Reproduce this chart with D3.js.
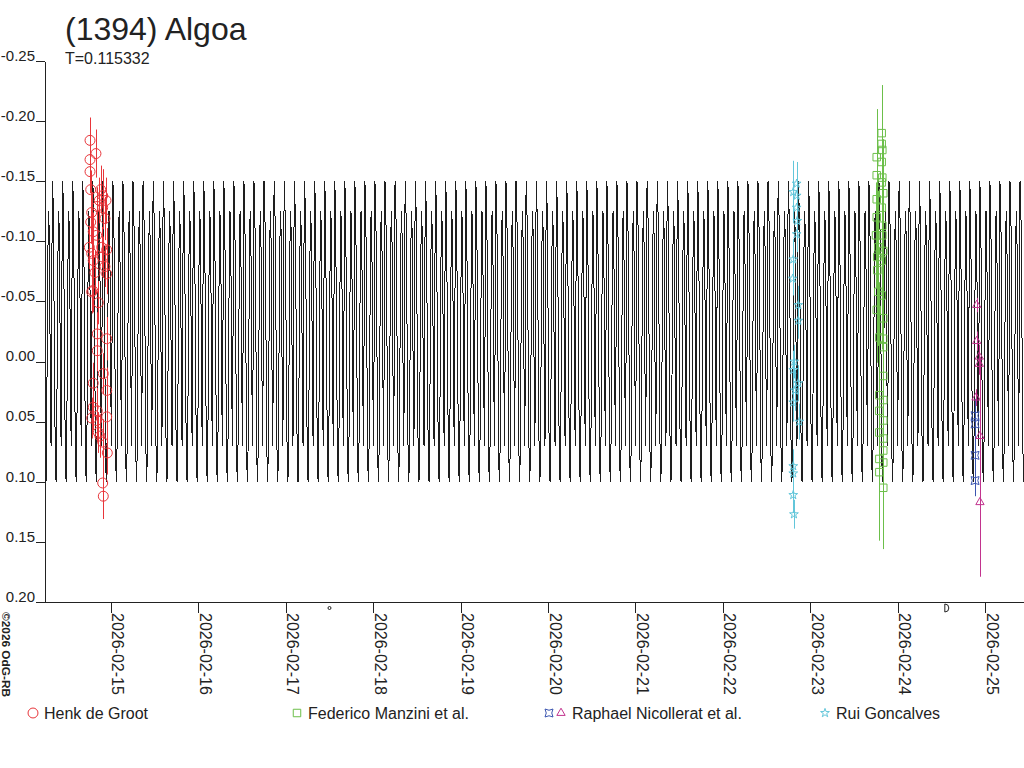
<!DOCTYPE html>
<html>
<head>
<meta charset="utf-8">
<script src="https://cdn.jsdelivr.net/npm/d3@7"></script>
<style>
  body { margin: 0; background: #fff; }
  svg { display: block; font-family: "Liberation Sans", Arial, sans-serif; }
</style>
</head>
<body>
<div class="canvas"></div>
<script>
// all times are day-of-month, February 2026 (UT); magnitudes are relative
const title = '(1394) Algoa';
const period = 0.115332; // days
const xDomainDays = [14.245, 25.446];
const yTicks = [-0.25, -0.20, -0.15, -0.10, -0.05, 0.00, 0.05, 0.10, 0.15, 0.20];

// one cycle of the fitted lightcurve (16 equal phase steps)
const curveEpoch = 14.79;
const curveProfile = [-0.150, -0.140, -0.100, -0.030, 0.040, 0.090, 0.100, 0.060,
                      -0.020, -0.090, -0.125, -0.110, -0.050, 0.030, 0.070, -0.040];

// Henk de Groot
const henkDay = [14.752, 14.760, 14.760, 14.760, 14.768, 14.768, 14.779, 14.779, 14.779, 14.779,
                 14.791, 14.797, 14.797, 14.797, 14.797, 14.817, 14.828, 14.836, 14.836, 14.843,
                 14.843, 14.843, 14.843, 14.855, 14.855, 14.866, 14.874, 14.882, 14.894, 14.905,
                 14.905, 14.905, 14.905, 14.905, 14.912, 14.912, 14.931, 14.931, 14.943, 14.951,
                 14.951, 14.951, 14.951, 14.951, 14.958];
const henkMag = [-0.095, -0.184, -0.168, -0.158, -0.143, -0.116, -0.124, -0.090, -0.058, 0.047,
                 -0.059, -0.108, -0.084, 0.018, 0.038, -0.074, -0.173, -0.105, 0.049, -0.129,
                 -0.023, -0.009, 0.041, -0.049, 0.059, -0.134, 0.062, -0.143, -0.095, -0.138,
                 -0.128, -0.087, 0.067, 0.101, 0.010, 0.112, -0.119, -0.079, -0.134, -0.093,
                 -0.073, -0.019, 0.024, 0.046, 0.076];
const henkErr = [0.018, 0.019, 0.017, 0.018, 0.016, 0.018, 0.017, 0.019, 0.018, 0.017,
                 0.018, 0.016, 0.018, 0.017, 0.019, 0.018, 0.020, 0.017, 0.018, 0.016,
                 0.018, 0.017, 0.019, 0.018, 0.017, 0.019, 0.018, 0.020, 0.017, 0.022,
                 0.018, 0.017, 0.019, 0.018, 0.017, 0.019, 0.018, 0.017, 0.019, 0.018,
                 0.017, 0.018, 0.019, 0.017, 0.018];

// Federico Manzini et al.
const fedDay = [23.761, 23.761, 23.761, 23.761, 23.753, 23.768, 23.768, 23.779, 23.779, 23.761,
                23.791, 23.791, 23.791, 23.791, 23.791, 23.791, 23.818, 23.818, 23.825, 23.818,
                23.825, 23.818, 23.836, 23.818, 23.825, 23.825, 23.836, 23.818, 23.818, 23.836,
                23.836, 23.836, 23.836, 23.836, 23.836, 23.836, 23.836, 23.836, 23.836];
const fedMag = [-0.170, -0.155, -0.135, -0.120, -0.105, -0.087, -0.076, -0.095, -0.058, -0.043,
                -0.020, 0.028, 0.041, 0.059, 0.081, 0.092, -0.190, -0.181, -0.176, -0.166,
                -0.153, -0.149, -0.140, -0.128, -0.113, -0.105, -0.092, -0.084, -0.055, -0.036,
                -0.019, -0.012, 0.012, 0.032, 0.049, 0.064, 0.074, 0.084, 0.105];
const fedErr = [0.040, 0.045, 0.042, 0.048, 0.044, 0.046, 0.043, 0.047, 0.045, 0.044,
                0.046, 0.048, 0.050, 0.047, 0.052, 0.057, 0.040, 0.038, 0.042, 0.044,
                0.041, 0.043, 0.045, 0.042, 0.046, 0.044, 0.043, 0.047, 0.045, 0.046,
                0.044, 0.048, 0.046, 0.045, 0.047, 0.049, 0.048, 0.050, 0.051];

// Raphael Nicollerat et al. (two sessions)
const raphADay = [24.886, 24.886, 24.886, 24.886];
const raphAMag = [0.045, 0.052, 0.078, 0.099];
const raphAErr = [0.014, 0.015, 0.016, 0.013];
const raphBDay = [24.905, 24.905, 24.934, 24.934, 24.897, 24.942, 24.942];
const raphBMag = [-0.047, -0.017, -0.004, 0.002, 0.030, 0.062, 0.117];
const raphBErr = [0.006, 0.008, 0.010, 0.009, 0.007, 0.066, 0.062];

// Rui Goncalves
const ruiDay = [22.845, 22.806, 22.845, 22.845, 22.852, 22.845, 22.806, 22.800, 22.864, 22.864,
                22.818, 22.806, 22.864, 22.826, 22.806, 22.875, 22.806, 22.806, 22.806, 22.814];
const ruiMag = [-0.148, -0.141, -0.138, -0.128, -0.117, -0.106, -0.085, -0.069, -0.047, -0.034,
                0.000, 0.007, 0.018, 0.024, 0.034, 0.050, 0.087, 0.093, 0.111, 0.127];
const ruiErr = [0.018, 0.026, 0.015, 0.014, 0.016, 0.015, 0.017, 0.014, 0.016, 0.015,
                0.014, 0.016, 0.015, 0.017, 0.016, 0.015, 0.014, 0.016, 0.015, 0.012];

const legendNames = ['Henk de Groot', 'Federico Manzini et al.', 'Raphael Nicollerat et al.', 'Rui Goncalves'];
const moonDays = [17.50, 24.54];
const moonKinds = ['new', 'first'];

// ---- helpers ----
const toDate = d => new Date(Date.UTC(2026, 1, 0) + d * 864e5);
const zip = (days, mags, errs) => days.map((d, i) => ({ day: d, mag: mags[i], err: errs[i] }));

const svg = d3.select('.canvas')
    .append('svg')
    .attr('width', 1024)
    .attr('height', 768);

const x = d3.scaleUtc()
    .domain(xDomainDays.map(toDate))
    .range([45, 1024]);

const y = d3.scaleLinear()
    .domain([-0.25, 0.20])
    .range([61, 602]);

// ---- title ----
svg.append('text')
    .attr('x', 65).attr('y', 40)
    .attr('font-size', 32)
    .attr('fill', '#222')
    .text(title);

svg.append('text')
    .attr('x', 65).attr('y', 64)
    .attr('font-size', 16)
    .attr('fill', '#222')
    .text(`T=${period}`);

// ---- model curve, the read cycle repeated every period ----
const curvePts = [];
const kStart = Math.floor((xDomainDays[0] - curveEpoch) / period) - 1;
const kEnd = Math.ceil((xDomainDays[1] - curveEpoch) / period) + 1;
for (let k = kStart; k <= kEnd; k++) {
    curveProfile.forEach((m, i) => {
        const day = curveEpoch + (k + i / curveProfile.length) * period;
        if (day >= xDomainDays[0] && day <= xDomainDays[1]) curvePts.push({ day, mag: m });
    });
}

svg.append('path')
    .datum(curvePts)
    .attr('fill', 'none')
    .attr('stroke', '#1e1e1e')
    .attr('stroke-width', 1)
    .attr('shape-rendering', 'crispEdges')
    .attr('d', d3.line().x(d => x(toDate(d.day))).y(d => y(d.mag)));

// ---- axes ----
const yAxis = svg.append('g')
    .attr('transform', 'translate(45,0)')
    .call(d3.axisLeft(y).tickValues(yTicks).tickSize(9).tickSizeOuter(0).tickFormat(d => d.toFixed(2)));

const xAxis = svg.append('g')
    .attr('transform', 'translate(0,602)')
    .call(d3.axisBottom(x).ticks(d3.utcDay.every(1)).tickSize(11).tickSizeOuter(0)
        .tickFormat(d3.utcFormat('%Y-%m-%d')));

[yAxis, xAxis].forEach(g => g
    .attr('font-size', 16)
    .attr('font-family', '"Liberation Sans", Arial, sans-serif')
    .attr('color', '#222')
    .attr('shape-rendering', 'crispEdges'));

yAxis.selectAll('text')
    .attr('font-size', 15)
    .attr('x', -10)
    .attr('dy', '-0.05em');

xAxis.selectAll('text')
    .attr('x', 0).attr('y', 0).attr('dy', 0)
    .attr('transform', 'translate(1,11) rotate(90)')
    .style('text-anchor', 'start');

// x axis line runs a little left of the y axis
svg.append('line')
    .attr('x1', 36).attr('x2', 45)
    .attr('y1', 602.5).attr('y2', 602.5)
    .attr('stroke', '#222');

// moon phase marks under the axis
moonDays.forEach((d, i) => {
    const mx = x(toDate(d));
    if (moonKinds[i] === 'new') {
        svg.append('circle')
            .attr('cx', mx).attr('cy', 608).attr('r', 1.5)
            .attr('fill', 'none').attr('stroke', '#222');
    } else {
        svg.append('path')
            .attr('d', `M${mx},604v8a4,4 0 0 0 0,-8`)
            .attr('fill', 'none').attr('stroke', '#222');
    }
});

// copyright note
svg.append('text')
    .attr('transform', 'translate(2,612) rotate(90)')
    .attr('font-size', 10)
    .attr('font-weight', 'bold')
    .attr('textLength', 85)
    .attr('lengthAdjust', 'spacingAndGlyphs')
    .attr('fill', '#222')
    .text('©2026 OdG-RB');

// ---- observations ----
const quad = 'M-4,-4Q0,-1.5 4,-4Q1.5,0 4,4Q0,1.5 -4,4Q-1.5,0 -4,-4Z';
const series = [
    { data: zip(henkDay, henkMag, henkErr), color: '#e8353a', shape: d3.symbol(d3.symbolCircle, 78)() },
    { data: zip(fedDay, fedMag, fedErr), color: '#6cbf4a', shape: d3.symbol(d3.symbolSquare, 56)() },
    { data: zip(ruiDay, ruiMag, ruiErr), color: '#62c6da', shape: d3.symbol(d3.symbolStar, 24)() },
    { data: zip(raphADay, raphAMag, raphAErr), color: '#3b55b0', shape: quad },
    { data: zip(raphBDay, raphBMag, raphBErr), color: '#c2338e', shape: d3.symbol(d3.symbolTriangle, 30)() }
];

series.forEach(s => {
    const g = svg.append('g');
    g.selectAll('line')
        .data(s.data)
        .enter()
        .append('line')
        .attr('x1', d => Math.round(x(toDate(d.day))) + 0.5)
        .attr('x2', d => Math.round(x(toDate(d.day))) + 0.5)
        .attr('y1', d => y(d.mag - d.err))
        .attr('y2', d => y(d.mag + d.err))
        .attr('stroke', s.color)
        .attr('stroke-width', 1);
    g.selectAll('path')
        .data(s.data)
        .enter()
        .append('path')
        .attr('transform', d => `translate(${x(toDate(d.day))},${y(d.mag)})`)
        .attr('d', s.shape)
        .attr('fill', 'none')
        .attr('stroke', s.color)
        .attr('stroke-width', 1);
});

// ---- legend ----
const legendX = [33, 297, 549, 825];
const legendSymbols = [[0], [1], [3, 4], [2]];
legendNames.forEach((name, i) => {
    const g = svg.append('g').attr('transform', `translate(${legendX[i]},713)`);
    legendSymbols[i].forEach((si, j) => {
        g.append('path')
            .attr('transform', `translate(${j * 12},0)`)
            .attr('d', series[si].shape)
            .attr('fill', 'none')
            .attr('stroke', series[si].color);
    });
    g.append('text')
        .attr('x', 11 + (legendSymbols[i].length - 1) * 12)
        .attr('y', 6)
        .attr('font-size', 16)
        .attr('fill', '#222')
        .text(name);
});
</script>
</body>
</html>
